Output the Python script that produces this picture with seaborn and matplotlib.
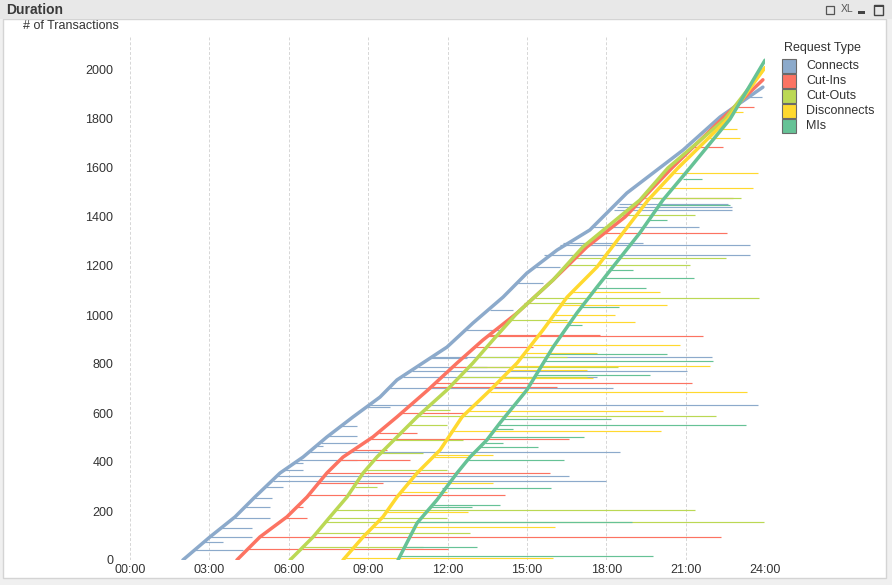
import numpy as np
import pandas as pd
import matplotlib
matplotlib.use("Agg")
import matplotlib.pyplot as plt
import seaborn as sns
from matplotlib.patches import Rectangle

# ---------------- data ----------------
series_names = ["Connects", "Cut-Ins", "Cut-Outs", "Disconnects", "MIs"]
series_colors = ["#8CAACB", "#FC7362", "#BBD854", "#FFD92F", "#66C296"]

x_tick_labels = ["00:00", "03:00", "06:00", "09:00", "12:00", "15:00", "18:00", "21:00", "24:00"]
y_ticks = [0, 200, 400, 600, 800, 1000, 1200, 1400, 1600, 1800, 2000]

# start-time curves (transaction count -> start hour)
connects_n = [0, 94, 176, 257, 355, 420, 502, 584, 665, 735, 869, 967, 1073, 1171, 1265, 1347, 1498, 1673, 1808, 1930]
connects_h = [2.00, 3.02, 3.97, 4.72, 5.67, 6.54, 7.44, 8.43, 9.45, 10.09, 11.98, 12.96, 14.10, 15.00, 16.14, 17.38, 18.78, 20.90, 22.30, 23.92]
cutins_n = [0, 94, 176, 257, 355, 420, 502, 584, 694, 804, 898, 1008, 1143, 1278, 1400, 1600, 1800, 1960]
cutins_h = [4.04, 4.91, 5.93, 6.69, 7.44, 8.05, 9.18, 10.09, 11.26, 12.36, 13.34, 14.63, 15.99, 17.27, 18.71, 20.48, 22.37, 23.92]
cutouts_n = [0, 94, 176, 257, 355, 420, 502, 584, 694, 804, 898, 1008, 1143, 1278, 1469, 1600, 1800, 2000]
cutouts_h = [6.05, 6.92, 7.56, 8.20, 8.81, 9.33, 10.09, 10.85, 11.98, 12.96, 13.72, 14.63, 15.99, 17.12, 19.27, 20.33, 22.49, 23.92]
disconnects_n = [0, 94, 176, 257, 355, 449, 584, 694, 804, 939, 1073, 1196, 1335, 1469, 1600, 1800, 2010]
disconnects_h = [8.05, 8.81, 9.56, 10.09, 10.85, 11.72, 12.55, 13.62, 14.63, 15.61, 16.52, 17.65, 18.63, 19.58, 20.71, 22.60, 24.0]
mis_n = [0, 151, 245, 355, 420, 490, 559, 694, 869, 1008, 1114, 1196, 1335, 1469, 1600, 1800, 2040]
mis_h = [10.13, 10.85, 11.60, 12.36, 12.85, 13.49, 13.98, 15.00, 15.99, 16.89, 17.65, 18.25, 19.27, 20.14, 21.16, 22.68, 24.0]

# duration segments: transaction count, start hour, end hour
connects_seg_n = [41, 73, 94, 131, 171, 216, 253, 298, 323, 343, 367, 396, 408, 441, 465, 478, 506, 547, 624, 633, 702, 747, 771, 788, 824, 829, 939, 1020, 1131, 1196, 1245, 1286, 1294, 1359, 1429, 1441, 1453, 1890]
connects_seg_start = [2.45, 2.75, 3.02, 3.45, 3.92, 4.35, 4.70, 5.10, 5.40, 5.55, 5.80, 6.25, 6.40, 6.80, 7.05, 7.20, 7.50, 7.95, 8.95, 9.05, 9.80, 10.30, 10.65, 10.90, 11.30, 11.40, 12.60, 13.60, 14.60, 15.30, 15.65, 16.25, 16.35, 17.45, 18.30, 18.40, 18.50, 23.40]
connects_seg_end = [4.27, 3.51, 4.61, 4.61, 5.29, 5.29, 5.37, 5.78, 17.99, 16.59, 6.54, 6.54, 8.58, 18.52, 7.29, 8.58, 8.58, 8.58, 9.83, 23.73, 18.25, 17.65, 21.05, 13.49, 12.74, 22.00, 13.98, 14.48, 15.61, 16.25, 23.43, 23.43, 19.39, 21.50, 22.75, 22.75, 22.60, 23.88]

cutins_seg_n = [45, 94, 171, 216, 265, 314, 355, 408, 449, 494, 518, 600, 706, 722, 788, 869, 914, 918, 1335, 1478, 1686, 1849]
cutins_seg_start = [4.45, 4.91, 5.88, 6.30, 6.75, 7.10, 7.44, 7.95, 8.40, 9.10, 9.40, 10.25, 11.40, 11.55, 12.20, 13.00, 13.50, 13.55, 17.85, 19.35, 21.25, 22.85]
cutins_seg_end = [12.02, 22.34, 6.69, 6.54, 14.17, 9.56, 15.87, 10.58, 9.71, 16.59, 10.85, 12.74, 16.12, 21.24, 14.48, 15.23, 21.66, 17.75, 22.56, 22.79, 22.41, 23.58]

cutouts_seg_n = [53, 110, 155, 171, 206, 298, 367, 437, 490, 551, 588, 612, 747, 788, 829, 980, 1049, 1069, 1204, 1233, 1408, 1478]
cutouts_seg_start = [6.50, 7.05, 7.40, 7.50, 7.80, 8.50, 8.90, 9.45, 10.00, 10.55, 10.85, 11.10, 12.40, 12.80, 13.20, 14.40, 14.90, 15.30, 16.55, 16.80, 18.60, 19.35]
cutouts_seg_end = [11.07, 12.85, 23.96, 11.98, 21.35, 9.33, 11.98, 11.07, 12.59, 11.98, 22.15, 12.09, 17.27, 18.44, 16.52, 16.52, 17.12, 23.77, 21.16, 22.52, 21.35, 23.09]

disconnects_seg_n = [8, 135, 196, 278, 314, 420, 429, 527, 608, 686, 743, 776, 792, 845, 878, 971, 1000, 1041, 1094, 1518, 1580, 1722, 1759, 1829]
disconnects_seg_start = [8.10, 9.20, 9.70, 10.25, 10.50, 11.50, 11.55, 12.10, 12.70, 13.60, 14.10, 14.40, 14.55, 14.95, 15.25, 15.85, 16.05, 16.30, 16.70, 19.95, 20.55, 21.85, 22.20, 22.85]
disconnects_seg_end = [15.99, 16.06, 12.77, 11.98, 13.72, 12.85, 13.72, 20.07, 20.14, 23.32, 17.50, 17.27, 21.92, 17.65, 20.79, 19.08, 18.33, 20.29, 20.03, 23.54, 23.73, 23.05, 22.94, 23.17]

mis_seg_n = [16, 53, 155, 216, 224, 294, 408, 461, 478, 502, 535, 551, 575, 755, 812, 841, 959, 1033, 1110, 1151, 1184, 1388, 1449, 1555]
mis_seg_start = [10.20, 10.40, 10.90, 11.35, 11.40, 11.80, 12.75, 13.20, 13.40, 13.55, 13.85, 13.95, 14.10, 15.35, 15.65, 15.80, 16.50, 17.10, 17.65, 17.90, 18.15, 19.60, 20.00, 20.90]
mis_seg_end = [19.77, 13.11, 18.97, 12.93, 13.98, 15.91, 16.40, 15.42, 14.10, 17.16, 14.48, 23.28, 18.18, 19.65, 22.03, 20.29, 17.10, 18.50, 19.50, 21.32, 19.00, 20.29, 22.68, 21.62]

curves = [(connects_n, connects_h), (cutins_n, cutins_h), (cutouts_n, cutouts_h),
          (disconnects_n, disconnects_h), (mis_n, mis_h)]
segments = [(connects_seg_n, connects_seg_start, connects_seg_end),
            (cutins_seg_n, cutins_seg_start, cutins_seg_end),
            (cutouts_seg_n, cutouts_seg_start, cutouts_seg_end),
            (disconnects_seg_n, disconnects_seg_start, disconnects_seg_end),
            (mis_seg_n, mis_seg_start, mis_seg_end)]

rows = []
for name, (ns, hs) in zip(series_names, curves):
    for n, h in zip(ns, hs):
        rows.append({"series": name, "n": n, "hour": h})
df_curve = pd.DataFrame(rows)

# ---------------- figure ----------------
W, H = 892, 585
sns.set_theme(style="white")
plt.rcParams["font.family"] = ["Liberation Sans", "DejaVu Sans"]

fig = plt.figure(figsize=(W / 100, H / 100), dpi=100)
fig.patch.set_facecolor("#f0f0f0")

def fx(x):
    return x / W

def fy(y):
    return 1 - y / H

# white panel with border
fig.patches.append(Rectangle((fx(3), fy(578)), fx(886) - fx(3), fy(19) - fy(578),
                             transform=fig.transFigure, facecolor="white",
                             edgecolor="#d4d4d4", linewidth=1, zorder=-3))
# caption bar
fig.patches.append(Rectangle((0, fy(19)), 1, 19 / H, transform=fig.transFigure,
                             facecolor="#e8e8e8", edgecolor="none", zorder=-2))
fig.text(fx(6), fy(9.5), "Duration", fontsize=10, fontweight="bold", color="#3a3a3a",
         va="center", ha="left", family=["Liberation Sans Narrow", "Liberation Sans", "DejaVu Sans"])
# caption icons
fig.patches.append(Rectangle((fx(826), fy(14)), 8 / W, 8 / H, transform=fig.transFigure,
                             facecolor="none", edgecolor="#555555", linewidth=0.9, zorder=2))
fig.text(fx(847), fy(9.5), "XL", fontsize=7.5, color="#555555", va="center", ha="center",
         family=["Liberation Sans Narrow", "Liberation Sans"])
fig.patches.append(Rectangle((fx(858), fy(14)), 7 / W, 3 / H, transform=fig.transFigure,
                             facecolor="#444444", edgecolor="none", zorder=2))
fig.patches.append(Rectangle((fx(874), fy(15)), 9 / W, 10 / H, transform=fig.transFigure,
                             facecolor="none", edgecolor="#444444", linewidth=1.0, zorder=2))
fig.patches.append(Rectangle((fx(874), fy(7)), 9 / W, 2 / H, transform=fig.transFigure,
                             facecolor="#444444", edgecolor="none", zorder=2))

# axes
x0, x1, ytop, ybot = 130, 765, 37, 560
ax = fig.add_axes([fx(x0), fy(ybot), fx(x1) - fx(x0), fy(ytop) - fy(ybot)])
ax.set_zorder(5)
ax.patch.set_alpha(0)
ymax = (ybot - ytop) / 0.245

# vertical dashed grid
for t in range(0, 25, 3):
    ax.axvline(t, color="#d6d6d6", linewidth=0.7, linestyle=(0, (3, 2)), zorder=1)

# duration segments
for color, (ns, ss, es) in zip(series_colors, segments):
    ax.hlines(ns, ss, es, colors=color, linewidth=0.85, zorder=2)

# start curves
sns.lineplot(data=df_curve, x="hour", y="n", hue="series", hue_order=series_names,
             palette=series_colors, sort=False, estimator=None, linewidth=2.5,
             legend=False, ax=ax, zorder=3)

ax.set_xlim(0, 24)
ax.set_ylim(0, ymax)
ax.set_xticks(range(0, 25, 3))
ax.set_xticklabels(x_tick_labels)
ax.set_yticks(y_ticks)
ax.set_yticklabels([str(v) for v in y_ticks])
ax.tick_params(axis="both", length=0, labelsize=9, colors="#333333")
ax.tick_params(axis="y", pad=12)
ax.tick_params(axis="x", pad=3)
ax.set_xlabel("")
ax.set_ylabel("")
for s in ax.spines.values():
    s.set_visible(False)

fig.text(fx(23), fy(26), "# of Transactions", fontsize=9, color="#333333", va="center", ha="left")

# legend
fig.text(fx(784), fy(48), "Request Type", fontsize=9, color="#333333", va="center", ha="left")
for i, (name, color) in enumerate(zip(series_names, series_colors)):
    yc = 66 + i * 15
    fig.patches.append(Rectangle((fx(782), fy(yc + 7)), 14 / W, 14 / H, transform=fig.transFigure,
                                 facecolor=color, edgecolor="#6a6a6a", linewidth=0.8, zorder=3))
    fig.text(fx(806), fy(yc), name, fontsize=9, color="#333333", va="center", ha="left")

fig.savefig("out.png", dpi=100, facecolor=fig.get_facecolor())
